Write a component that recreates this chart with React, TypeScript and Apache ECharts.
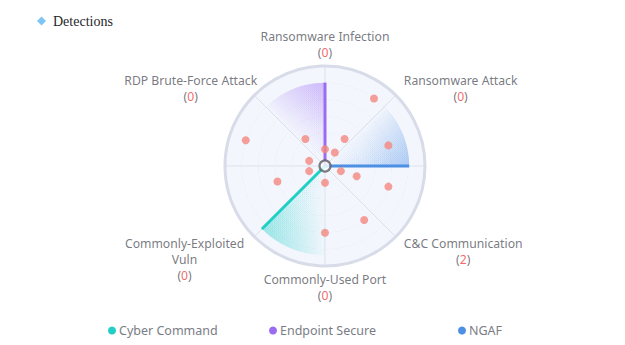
import React, { useEffect, useRef } from "react";
import * as echarts from "echarts";

// ---- data ----
const sourceNames = ["Cyber Command", "Endpoint Secure", "NGAF"];
const sourceColors = ["#22cfc7", "#9b6cf1", "#4d8fe3"];
const sourceAngles = [225, 90, 0]; // degrees (math orientation)
const sourceLengths = [5.35, 5.0, 5.05]; // radius units (0..6)
const sourceSpans = [45, 45, 45];

const detectionRadius = [5, 2, 1, 1, 2, 5, 4, 1, 1, 1, 2, 4, 1, 3, 4, 4];
const detectionAngle = [54, 54, 90, 54, 126, 162, 18, 162, 198, 342, 342, 342, 270, 198, 306, 270];

const categoryNames = [
  "Ransomware Infection",
  "Ransomware Attack",
  "C&C Communication",
  "Commonly-Used Port",
  "Commonly-Exploited\nVuln",
  "RDP Brute-Force Attack",
];
const categoryCounts = [0, 0, 2, 0, 0, 0];
const categoryAngles = [90, 45, 315, 270, 225, 135];

function rgba(hex: string, a: number) {
  const n = parseInt(hex.slice(1), 16);
  return `rgba(${(n >> 16) & 255},${(n >> 8) & 255},${n & 255},${a})`;
}

export default function App() {
  const ref = useRef<HTMLDivElement>(null);
  useEffect(() => {
    document.body.style.margin = "0";
    const chart = echarts.init(ref.current!, undefined, { renderer: "svg" });

    const labelLayout: Record<number, any> = {
      90: { align: "center", verticalAlign: "bottom", offset: [0, 0] },
      45: { align: "left", verticalAlign: "bottom", offset: [4, 13] },
      315: { align: "left", verticalAlign: "top", offset: [4, -5] },
      270: { align: "center", verticalAlign: "top", offset: [0, 0] },
      225: { align: "right", verticalAlign: "top", offset: [-6, -5] },
      135: { align: "right", verticalAlign: "bottom", offset: [7, 13] },
    };

    const labelData = categoryNames.map((name, i) => {
      const ang = categoryAngles[i];
      const lay = labelLayout[ang];
      return {
        value: [6.35, ang],
        label: {
          show: true,
          position: "inside",
          align: lay.align,
          verticalAlign: lay.verticalAlign,
          offset: lay.offset,
          formatter:
            name
              .split("\n")
              .map((l) => `{n|${l}}`)
              .join("\n") + `\n{n|(}{c|${categoryCounts[i]}}{n|)}`,
          rich: {
            n: { align: "center", color: "#55585f", fontSize: 12.2, lineHeight: 16, fontFamily: "Noto Sans" },
            c: { align: "center", color: "#f2413f", fontSize: 12.2, lineHeight: 16, fontFamily: "Noto Sans" },
          },
        },
      };
    });

    const sectorSeries = sourceNames.map((name, i) => ({
      type: "custom",
      name,
      coordinateSystem: "polar",
      itemStyle: { color: sourceColors[i] },
      silent: true,
      clip: false,
      z: 2,
      encode: { radius: 1, angle: 0 },
      data: [[sourceAngles[i], sourceLengths[i], sourceSpans[i]]],
      renderItem: (params: any, api: any) => {
        const angle = api.value(0);
        const len = api.value(1);
        const span = api.value(2);
        const c = api.coord([0, angle]);
        const p = api.coord([len, angle]);
        const cx = c[0];
        const cy = c[1];
        const rPx = Math.hypot(p[0] - cx, p[1] - cy);
        const color = sourceColors[params.seriesIndex];
        const steps = 18;
        const children: any[] = [];
        const alpha = 0.03;
        for (let k = 0; k < steps; k++) {
          const a1 = angle + (span * (k + 1)) / steps;
          children.push({
            type: "sector",
            shape: {
              cx,
              cy,
              r0: 0,
              r: rPx,
              startAngle: (-a1 * Math.PI) / 180,
              endAngle: (-angle * Math.PI) / 180,
              clockwise: true,
            },
            style: {
              fill: {
                type: "radial",
                x: cx,
                y: cy,
                r: rPx,
                global: true,
                colorStops: [
                  { offset: 0, color: rgba(color, 0) },
                  { offset: 0.45, color: rgba(color, alpha * 0.3) },
                  { offset: 1, color: rgba(color, alpha) },
                ],
              },
            },
          });
        }
        children.push({
          type: "line",
          shape: { x1: cx, y1: cy, x2: p[0], y2: p[1] },
          style: { stroke: color, lineWidth: 3 },
        });
        return { type: "group", children };
      },
    }));

    chart.setOption({
      animation: false,
      legend: [
        {
          left: 37,
          top: 14,
          padding: 0,
          itemWidth: 9,
          itemHeight: 9,
          textStyle: { fontFamily: "Liberation Serif", fontSize: 14, color: "#1f1f2a", padding: [0, 0, 0, 2] },
          data: [{ name: "Detections", icon: "diamond", itemStyle: { color: "#5cb6f3" } }],
        },
        ...sourceNames.map((n, i) => ({
          left: [108, 269, 458][i],
          top: 324,
          padding: 0,
          itemWidth: 8,
          itemHeight: 8,
          textStyle: { fontFamily: "Noto Sans", fontSize: 12.5, color: "#7a7d85", padding: [0, 0, 0, -2] },
          data: [{ name: n, icon: "circle" }],
        })),
      ],
      polar: { center: [325, 166], radius: 100 },
      angleAxis: {
        type: "value",
        min: 0,
        max: 360,
        interval: 45,
        startAngle: 0,
        clockwise: false,
        axisLine: { show: true, lineStyle: { color: "#d8dce9", width: 3 } },
        axisTick: { show: false },
        axisLabel: { show: false },
        splitLine: { show: true, lineStyle: { color: "#dde1ec", width: 1 } },
      },
      radiusAxis: {
        type: "value",
        min: 0,
        max: 6,
        interval: 1,
        axisLine: { show: false },
        axisTick: { show: false },
        axisLabel: { show: false },
        splitLine: { show: true, lineStyle: { color: "#d6dbe8", width: 1 } },
        splitArea: { show: true, areaStyle: { color: ["#f3f6fd", "#f3f6fd"] } },
      },
      series: [
        ...sectorSeries,
        {
          type: "scatter",
          name: "Detections",
          coordinateSystem: "polar",
          symbolSize: 8,
          z: 3,
          itemStyle: { color: "#f4877f" },
          data: detectionRadius.map((r, i) => [r, detectionAngle[i]]),
        },
        {
          type: "scatter",
          name: "center",
          coordinateSystem: "polar",
          symbolSize: 11,
          z: 5,
          itemStyle: { color: "#ffffff", borderColor: "#5b5d63", borderWidth: 2.2 },
          data: [[0, 0]],
        },
        {
          type: "scatter",
          name: "labels",
          coordinateSystem: "polar",
          symbolSize: 1,
          clip: false,
          silent: true,
          itemStyle: { color: "rgba(0,0,0,0)" },
          data: labelData,
        },
      ],
    });
    return () => chart.dispose();
  }, []);
  return <div ref={ref} style={{ width: 625, height: 345 }} />;
}
